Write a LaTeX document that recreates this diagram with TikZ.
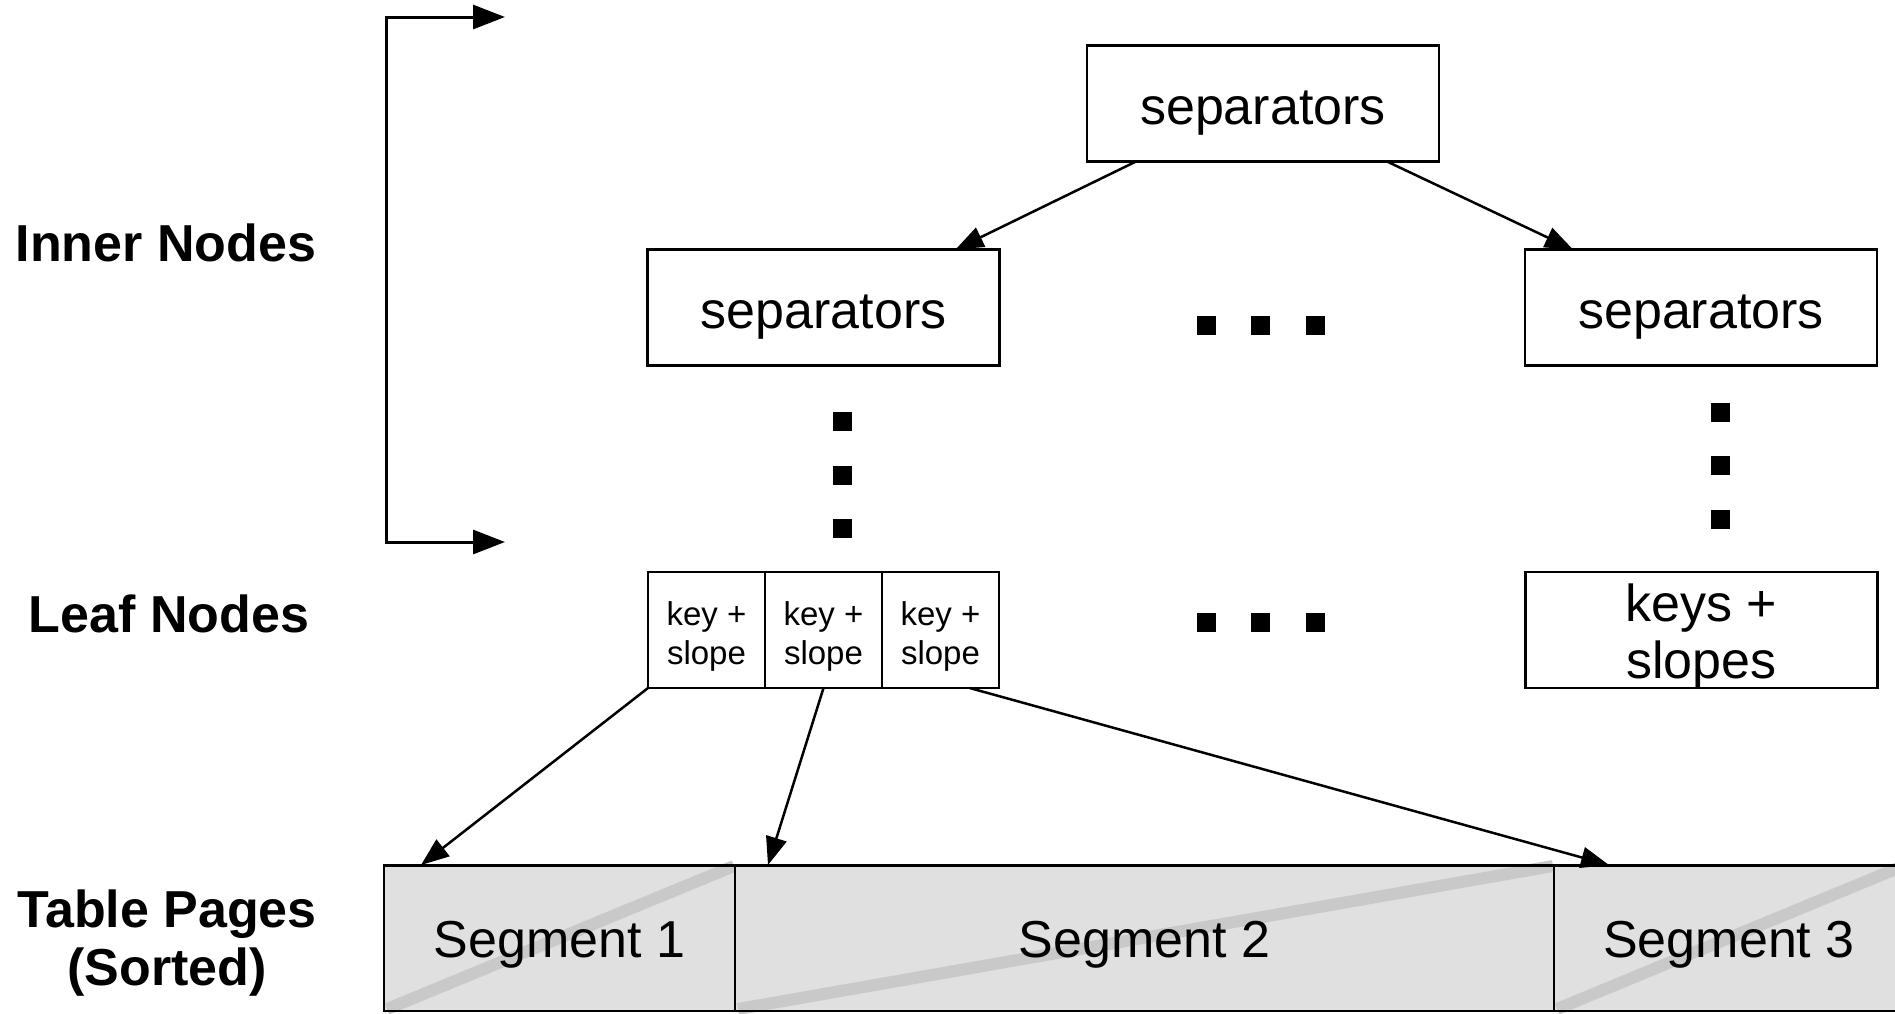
\documentclass[tikz,border=0pt]{standalone}
\usepackage{fontspec}
\setmainfont{Liberation Sans}
\usetikzlibrary{arrows.meta,calc}

\definecolor{segfill}{HTML}{E0E0E0}
\definecolor{segline}{HTML}{C9C9C9}

\tikzset{
  big/.style={font=\fontsize{52}{60}\selectfont},
  small/.style={font=\fontsize{33}{39}\selectfont},
  box/.style={draw, line width=2.5pt, inner sep=0pt, outer sep=0pt},
  sepbox/.style={box, minimum width=352pt, minimum height=116pt},
  keycell/.style={box, minimum width=117pt, minimum height=116pt},
  txt/.style={inner sep=0pt, align=center},
  segbox/.style={draw, line width=1.8pt, fill=segfill, inner sep=0pt, outer sep=0pt, minimum height=146pt},
  rowlabel/.style={font=\fontsize{52}{58}\selectfont\bfseries, align=center, inner sep=0pt},
  link/.style={line width=2.5pt, -{Triangle[length=28pt,width=21pt]}},
  dot/.style={fill=black, minimum size=19pt, inner sep=0pt},
  diag/.style={segline, line width=12pt}
}

\begin{document}
\begin{tikzpicture}[x=1pt,y=-1pt]
  \clip (0,0) rectangle (1895,1013);
  \fill[white] (0,0) rectangle (1895,1013);

  % row labels
  \node[rowlabel] (lInner) at (166,243) {Inner Nodes};
  \node[rowlabel] (lLeaf)  at (169,614) {Leaf Nodes};
  \node[rowlabel] (lTable) at (167,943) {Table Pages\\(Sorted)};

  % bracket spanning the inner levels
  \coordinate (brTop) at (386,17);
  \coordinate (brBot) at (386,542);
  \coordinate (brTopEnd) at (505,17);
  \coordinate (brBotEnd) at (505,542);
  \draw[line width=3pt, {Triangle[length=32pt,width=24pt]}-{Triangle[length=32pt,width=24pt]}]
    (brTopEnd) -- (brTop) -- (brBot) -- (brBotEnd);

  % inner nodes
  \node[sepbox] (root) at (1263,103.5) {};
  \node[sepbox] (sepL) at (823.5,307.5) {};
  \node[sepbox] (sepR) at (1701,307.5) {};
  \node[txt, big, yshift=-10pt] (rootT) at (root) {separators};
  \node[txt, big, yshift=-10pt] (sepLT) at (sepL) {separators};
  \node[txt, big, yshift=-10pt] (sepRT) at (sepR) {separators};

  % leaf nodes
  \node[keycell] (k1) at (706.5,630) {};
  \node[keycell] (k2) at (823.5,630) {};
  \node[keycell] (k3) at (940.5,630) {};
  \node[sepbox] (leafR) at (1701.5,630) {};
  \foreach \k in {k1,k2,k3}
    \node[txt, small, yshift=-6pt] (\k T) at (\k) {key +\\slope};
  \node[txt, font=\fontsize{52}{57}\selectfont, yshift=-7pt] (leafRT) at (leafR) {keys +\\slopes};

  % ellipsis markers
  \foreach \n/\x/\y in {a/842/421, b/842/475, c/842/528,
                        d/1720/412, e/1720/465, f/1720/519,
                        g/1206/325, h/1260/325, i/1315/325,
                        j/1206/622, k/1260/622, l/1315/622}
    \node[dot] (dot\n) at (\x,\y) {};

  % table pages
  \node[segbox, minimum width=351pt] (seg1) at (559.5,938) {};
  \node[segbox, minimum width=819pt] (seg2) at (1144.5,938) {};
  \node[segbox, minimum width=350pt] (seg3) at (1729,938) {};
  \foreach \s in {seg1,seg2,seg3}
    \draw[diag] ($(\s.south west)+(3,-2)$) -- ($(\s.north east)+(-1,1)$);
  \draw[line width=1.8pt] (seg1.north west) rectangle (seg3.south east);
  \draw[line width=1.8pt] (seg1.north east) -- (seg1.south east);
  \draw[line width=1.8pt] (seg2.north east) -- (seg2.south east);
  \draw[line width=3pt] (seg1.north west) -- (seg3.north east);
  \node[txt, big, yshift=-7pt] (seg1T) at (seg1) {Segment 1};
  \node[txt, big, yshift=-7pt] (seg2T) at (seg2) {Segment 2};
  \node[txt, big, yshift=-7pt] (seg3T) at (seg3) {Segment 3};

  % links between levels
  \draw[link] ($(root.south west)+(49,0)$) -- ($(sepL.north east)+(-44,0)$);
  \draw[link] ($(root.south east)+(-52,0)$) -- ($(sepR.north west)+(48,0)$);
  \draw[link] (k1.south west) -- ($(seg1.north west)+(37,0)$);
  \draw[link] (k2.south) -- ($(seg2.north west)+(33,0)$);
  \draw[link] ($(k3.south)!0.5!(k3.south east)$) -- ($(seg3.north west)+(55,0)$);
\end{tikzpicture}
\end{document}
